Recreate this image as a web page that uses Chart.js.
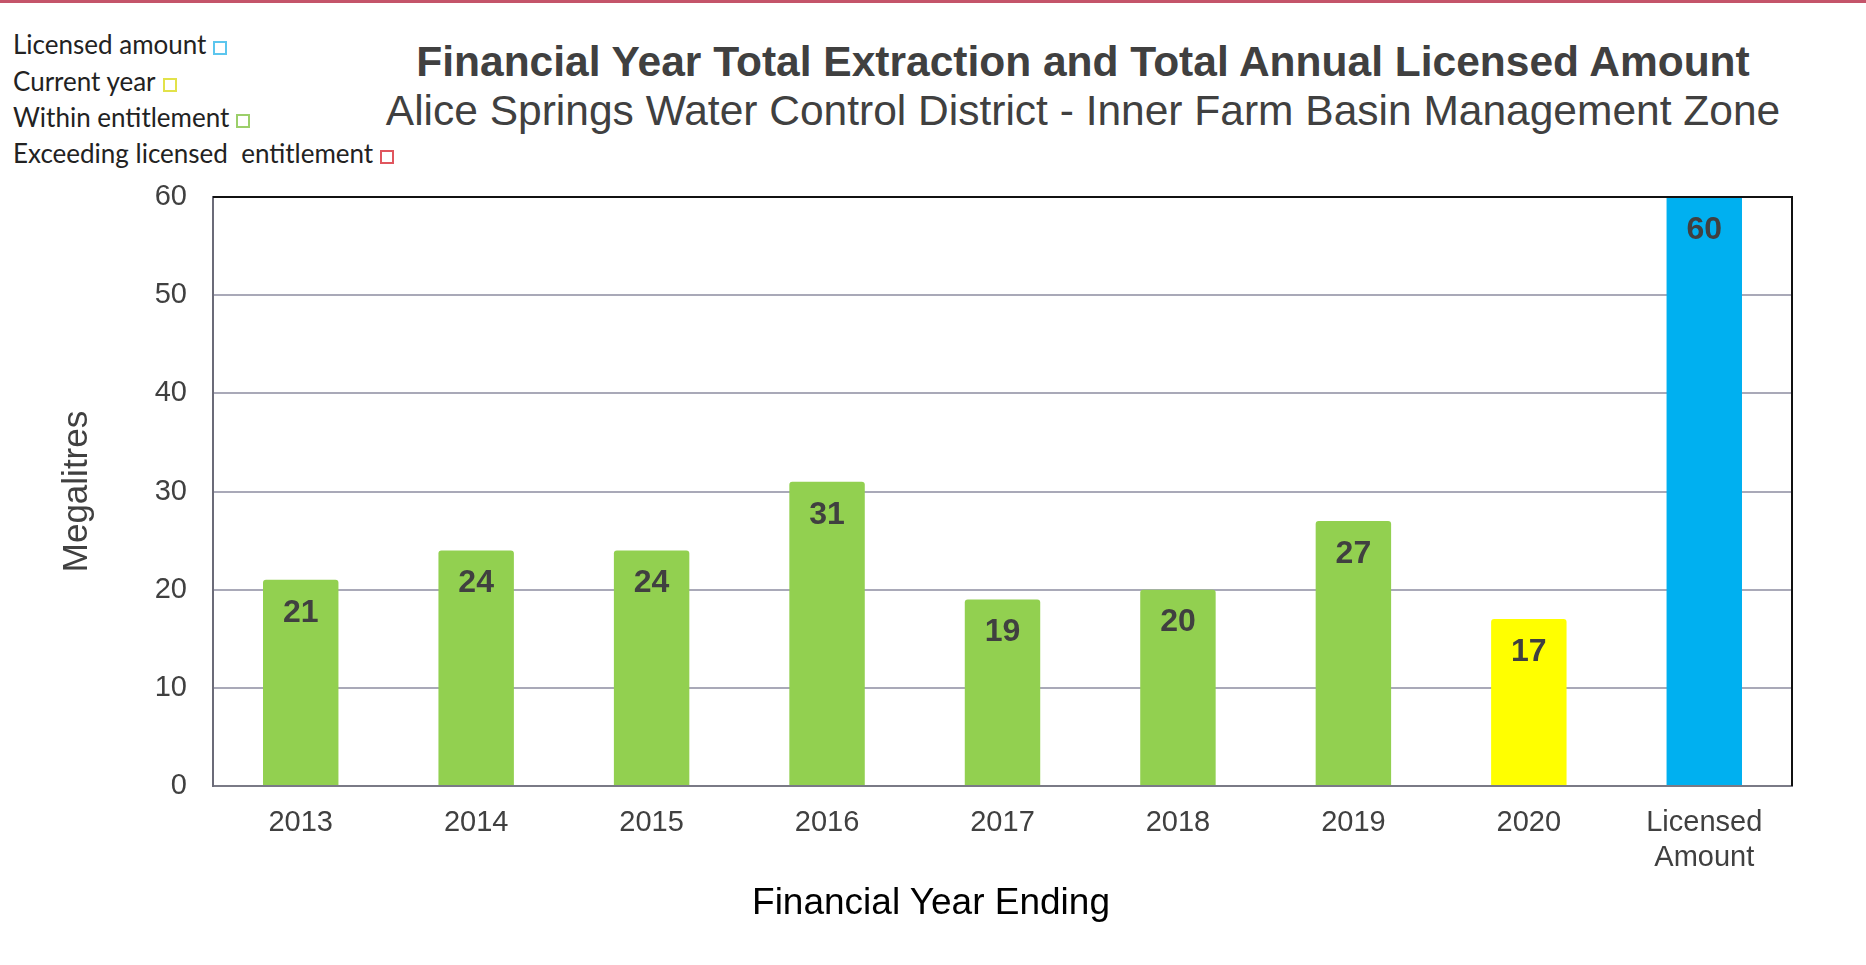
<!DOCTYPE html>
<html>
<head>
<meta charset="utf-8">
<title>Financial Year Total Extraction</title>
<script src="https://cdn.jsdelivr.net/npm/chart.js@4.4.1/dist/chart.umd.min.js"></script>
<style>
  body { margin: 0; background: #fff; }
  #page { position: relative; width: 1866px; height: 965px; overflow: hidden; font-family: "Liberation Sans", Arial, sans-serif; }
  #topline { position: absolute; left: 0; top: 0; width: 1866px; height: 3px; background: #c4546a; }
  #chartBox { position: absolute; left: 0; top: 0; width: 1866px; height: 965px; }
  .key { position: absolute; left: 13px; font-family: Lato, "Open Sans", sans-serif; font-size: 26px; line-height: 31px; color: #222; white-space: pre; }
  .key i { display: inline-block; width: 10px; height: 10px; border: 2px solid; margin-left: 7px; vertical-align: -1px; background: #fff; }
  .title { position: absolute; width: 1600px; left: 283px; text-align: center; color: #404040; white-space: nowrap; line-height: 49px; }
  #xTitle { position: absolute; width: 600px; left: 631px; top: 881px; text-align: center; font-size: 37px; color: #000; }
</style>
</head>
<body>
<div id="page">
  <div id="topline"></div>
  <div class="key" style="top:29px">Licensed amount<i style="border-color:#5cc6ee"></i></div>
  <div class="key" style="top:66px">Current year<i style="border-color:#e2e24a"></i></div>
  <div class="key" style="top:102px">Within entitlement<i style="border-color:#9ccf6a"></i></div>
  <div class="key" style="top:138px">Exceeding licensed  entitlement<i style="border-color:#e0565e"></i></div>
  <div class="title" style="top:37px;font-size:42.5px;font-weight:bold">Financial Year Total Extraction and Total Annual Licensed Amount</div>
  <div class="title" style="top:86px;font-size:42.5px">Alice Springs Water Control District - Inner Farm Basin Management Zone</div>
  <div id="chartBox"><canvas id="extractionChart"></canvas></div>
  <div id="xTitle">Financial Year Ending</div>
</div>
<script>
const years = ['2013', '2014', '2015', '2016', '2017', '2018', '2019', '2020', ['Licensed', 'Amount']];
const megalitres = [21, 24, 24, 31, 19, 20, 27, 17, 60];
const status = ['within', 'within', 'within', 'within', 'within', 'within', 'within', 'current', 'licensed'];
const yTicks = [0, 10, 20, 30, 40, 50, 60];

const statusColours = {
  licensed: '#00b0f0',
  current: '#ffff00',
  within: '#92d050',
  exceeding: '#ff0000'
};

const textGrey = '#404040';
const font = 'Liberation Sans, Arial, sans-serif';

// value printed just inside the top of each bar
const barValues = {
  id: 'barValues',
  afterDatasetsDraw(chart) {
    const ctx = chart.ctx;
    const meta = chart.getDatasetMeta(0);
    ctx.save();
    ctx.font = 'bold 32px ' + font;
    ctx.fillStyle = textGrey;
    ctx.textAlign = 'center';
    ctx.textBaseline = 'middle';
    meta.data.forEach((bar, i) => {
      ctx.fillText(String(megalitres[i]), bar.x, bar.y + 33);
    });
    ctx.restore();
  }
};

// black frame on the top and right of the plot
const plotFrame = {
  id: 'plotFrame',
  afterDraw(chart) {
    const { left, top, right, bottom } = chart.chartArea;
    const ctx = chart.ctx;
    ctx.save();
    ctx.strokeStyle = '#111';
    ctx.lineWidth = 2;
    ctx.beginPath();
    ctx.moveTo(left, top);
    ctx.lineTo(right, top);
    ctx.lineTo(right, bottom);
    ctx.stroke();
    ctx.restore();
  }
};

new Chart(document.getElementById('extractionChart'), {
  type: 'bar',
  data: {
    labels: years,
    datasets: [{
      data: megalitres,
      backgroundColor: status.map(s => statusColours[s]),
      borderRadius: ctx => status[ctx.dataIndex] === 'licensed' ? 0 : { topLeft: 3, topRight: 3 },
      borderSkipped: 'bottom',
      categoryPercentage: 1,
      barPercentage: 0.43
    }]
  },
  options: {
    responsive: true,
    maintainAspectRatio: false,
    animation: false,
    layout: { padding: { top: 197, right: 74, left: 0, bottom: 0 } },
    plugins: {
      legend: { display: false },
      tooltip: { enabled: false }
    },
    scales: {
      x: {
        grid: { display: false },
        border: { display: true, color: '#7a7a86', width: 2 },
        ticks: {
          color: textGrey,
          font: { family: font, size: 29, lineHeight: 1.2 },
          padding: 12,
          maxRotation: 0
        },
        afterFit: s => { s.height = 179; }
      },
      y: {
        min: 0,
        max: 60,
        afterBuildTicks: s => { s.ticks = yTicks.map(v => ({ value: v })); },
        grid: {
          drawTicks: false,
          color: c => c.tick.value === 0 ? 'rgba(0,0,0,0)' : '#a9a9b8',
          lineWidth: 2
        },
        border: { display: true, color: '#6b6b78', width: 2 },
        ticks: {
          color: textGrey,
          font: { family: font, size: 29 },
          padding: 26
        },
        title: {
          display: true,
          text: 'Megalitres',
          color: textGrey,
          font: { family: font, size: 35 },
          padding: { top: 56, bottom: 0 }
        },
        afterFit: s => { s.width = 213; }
      }
    }
  },
  plugins: [barValues, plotFrame]
});
</script>
</body>
</html>
